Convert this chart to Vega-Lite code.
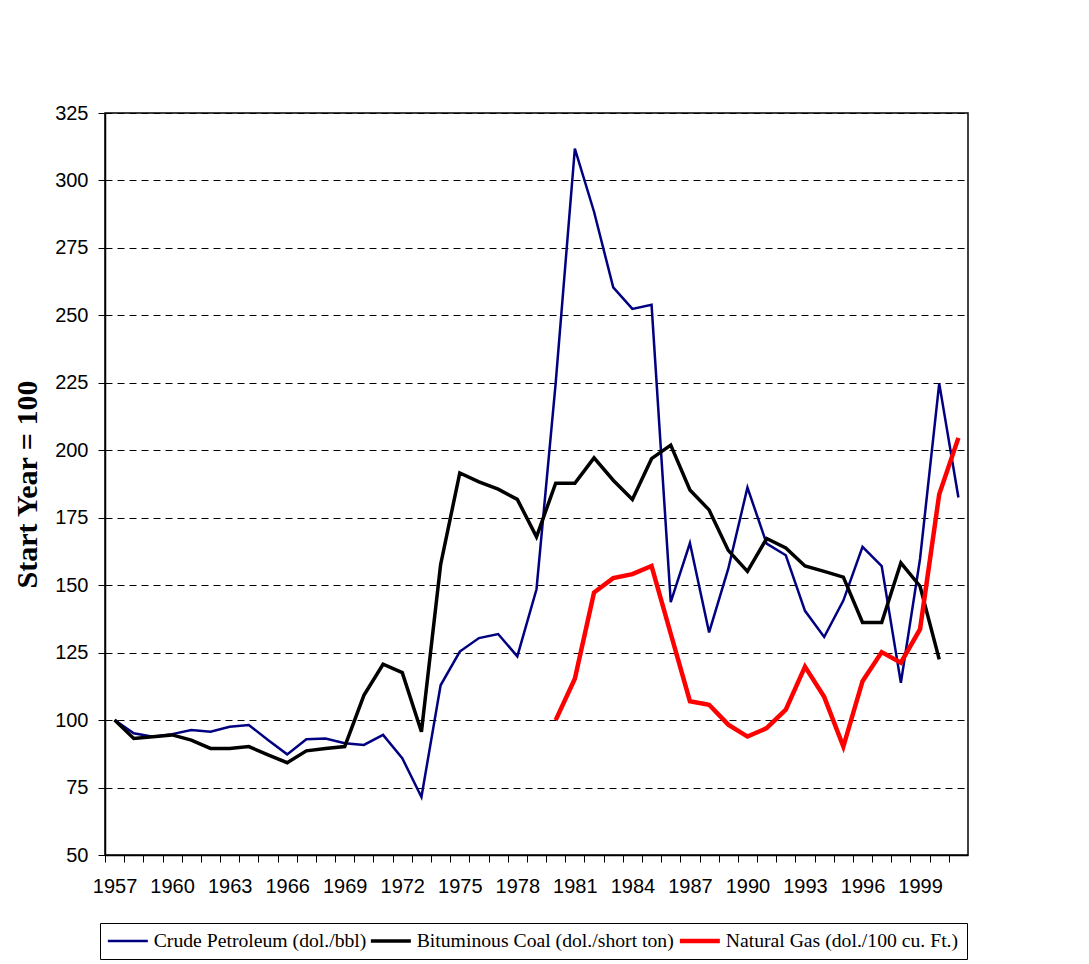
{
  "$schema": "https://vega.github.io/schema/vega-lite/v6.json",
  "autosize": "none",
  "width": 863,
  "height": 742,
  "padding": {"left": 105, "top": 113, "right": 121, "bottom": 109},
  "background": "white",
  "datasets": {
    "prices": [
      {"year": 1957, "series": "Crude Petroleum (dol./bbl)", "value": 100},
      {"year": 1958, "series": "Crude Petroleum (dol./bbl)", "value": 95.1},
      {"year": 1959, "series": "Crude Petroleum (dol./bbl)", "value": 93.8},
      {"year": 1960, "series": "Crude Petroleum (dol./bbl)", "value": 94.8},
      {"year": 1961, "series": "Crude Petroleum (dol./bbl)", "value": 96.3},
      {"year": 1962, "series": "Crude Petroleum (dol./bbl)", "value": 95.7},
      {"year": 1963, "series": "Crude Petroleum (dol./bbl)", "value": 97.5},
      {"year": 1964, "series": "Crude Petroleum (dol./bbl)", "value": 98.2},
      {"year": 1965, "series": "Crude Petroleum (dol./bbl)", "value": 92.6},
      {"year": 1966, "series": "Crude Petroleum (dol./bbl)", "value": 87.3},
      {"year": 1967, "series": "Crude Petroleum (dol./bbl)", "value": 92.9},
      {"year": 1968, "series": "Crude Petroleum (dol./bbl)", "value": 93.2},
      {"year": 1969, "series": "Crude Petroleum (dol./bbl)", "value": 91.4},
      {"year": 1970, "series": "Crude Petroleum (dol./bbl)", "value": 90.8},
      {"year": 1971, "series": "Crude Petroleum (dol./bbl)", "value": 94.5},
      {"year": 1972, "series": "Crude Petroleum (dol./bbl)", "value": 85.9},
      {"year": 1973, "series": "Crude Petroleum (dol./bbl)", "value": 71.5},
      {"year": 1974, "series": "Crude Petroleum (dol./bbl)", "value": 112.9},
      {"year": 1975, "series": "Crude Petroleum (dol./bbl)", "value": 125.4},
      {"year": 1976, "series": "Crude Petroleum (dol./bbl)", "value": 130.4},
      {"year": 1977, "series": "Crude Petroleum (dol./bbl)", "value": 131.9},
      {"year": 1978, "series": "Crude Petroleum (dol./bbl)", "value": 123.6},
      {"year": 1979, "series": "Crude Petroleum (dol./bbl)", "value": 148.5},
      {"year": 1980, "series": "Crude Petroleum (dol./bbl)", "value": 224.9},
      {"year": 1981, "series": "Crude Petroleum (dol./bbl)", "value": 311.8},
      {"year": 1982, "series": "Crude Petroleum (dol./bbl)", "value": 288.4},
      {"year": 1983, "series": "Crude Petroleum (dol./bbl)", "value": 260.4},
      {"year": 1984, "series": "Crude Petroleum (dol./bbl)", "value": 252.4},
      {"year": 1985, "series": "Crude Petroleum (dol./bbl)", "value": 253.9},
      {"year": 1986, "series": "Crude Petroleum (dol./bbl)", "value": 143.7},
      {"year": 1987, "series": "Crude Petroleum (dol./bbl)", "value": 165.6},
      {"year": 1988, "series": "Crude Petroleum (dol./bbl)", "value": 132.5},
      {"year": 1989, "series": "Crude Petroleum (dol./bbl)", "value": 156.1},
      {"year": 1990, "series": "Crude Petroleum (dol./bbl)", "value": 186.2},
      {"year": 1991, "series": "Crude Petroleum (dol./bbl)", "value": 165.4},
      {"year": 1992, "series": "Crude Petroleum (dol./bbl)", "value": 161.1},
      {"year": 1993, "series": "Crude Petroleum (dol./bbl)", "value": 140.5},
      {"year": 1994, "series": "Crude Petroleum (dol./bbl)", "value": 130.8},
      {"year": 1995, "series": "Crude Petroleum (dol./bbl)", "value": 144.3},
      {"year": 1996, "series": "Crude Petroleum (dol./bbl)", "value": 164.2},
      {"year": 1997, "series": "Crude Petroleum (dol./bbl)", "value": 157.1},
      {"year": 1998, "series": "Crude Petroleum (dol./bbl)", "value": 113.8},
      {"year": 1999, "series": "Crude Petroleum (dol./bbl)", "value": 159.8},
      {"year": 2000, "series": "Crude Petroleum (dol./bbl)", "value": 224.8},
      {"year": 2001, "series": "Crude Petroleum (dol./bbl)", "value": 182.5},
      {"year": 1957, "series": "Bituminous Coal (dol./short ton)", "value": 100},
      {"year": 1958, "series": "Bituminous Coal (dol./short ton)", "value": 93.2},
      {"year": 1959, "series": "Bituminous Coal (dol./short ton)", "value": 93.8},
      {"year": 1960, "series": "Bituminous Coal (dol./short ton)", "value": 94.5},
      {"year": 1961, "series": "Bituminous Coal (dol./short ton)", "value": 92.6},
      {"year": 1962, "series": "Bituminous Coal (dol./short ton)", "value": 89.5},
      {"year": 1963, "series": "Bituminous Coal (dol./short ton)", "value": 89.5},
      {"year": 1964, "series": "Bituminous Coal (dol./short ton)", "value": 90.2},
      {"year": 1965, "series": "Bituminous Coal (dol./short ton)", "value": 87.1},
      {"year": 1966, "series": "Bituminous Coal (dol./short ton)", "value": 84.2},
      {"year": 1967, "series": "Bituminous Coal (dol./short ton)", "value": 88.6},
      {"year": 1968, "series": "Bituminous Coal (dol./short ton)", "value": 89.5},
      {"year": 1969, "series": "Bituminous Coal (dol./short ton)", "value": 90.2},
      {"year": 1970, "series": "Bituminous Coal (dol./short ton)", "value": 109.2},
      {"year": 1971, "series": "Bituminous Coal (dol./short ton)", "value": 120.7},
      {"year": 1972, "series": "Bituminous Coal (dol./short ton)", "value": 117.6},
      {"year": 1973, "series": "Bituminous Coal (dol./short ton)", "value": 95.7},
      {"year": 1974, "series": "Bituminous Coal (dol./short ton)", "value": 157.6},
      {"year": 1975, "series": "Bituminous Coal (dol./short ton)", "value": 191.6},
      {"year": 1976, "series": "Bituminous Coal (dol./short ton)", "value": 188.3},
      {"year": 1977, "series": "Bituminous Coal (dol./short ton)", "value": 185.6},
      {"year": 1978, "series": "Bituminous Coal (dol./short ton)", "value": 181.8},
      {"year": 1979, "series": "Bituminous Coal (dol./short ton)", "value": 167.9},
      {"year": 1980, "series": "Bituminous Coal (dol./short ton)", "value": 187.8},
      {"year": 1981, "series": "Bituminous Coal (dol./short ton)", "value": 187.8},
      {"year": 1982, "series": "Bituminous Coal (dol./short ton)", "value": 197.2},
      {"year": 1983, "series": "Bituminous Coal (dol./short ton)", "value": 188.9},
      {"year": 1984, "series": "Bituminous Coal (dol./short ton)", "value": 181.8},
      {"year": 1985, "series": "Bituminous Coal (dol./short ton)", "value": 196.9},
      {"year": 1986, "series": "Bituminous Coal (dol./short ton)", "value": 201.9},
      {"year": 1987, "series": "Bituminous Coal (dol./short ton)", "value": 185.3},
      {"year": 1988, "series": "Bituminous Coal (dol./short ton)", "value": 177.9},
      {"year": 1989, "series": "Bituminous Coal (dol./short ton)", "value": 162.9},
      {"year": 1990, "series": "Bituminous Coal (dol./short ton)", "value": 155.1},
      {"year": 1991, "series": "Bituminous Coal (dol./short ton)", "value": 167.3},
      {"year": 1992, "series": "Bituminous Coal (dol./short ton)", "value": 163.8},
      {"year": 1993, "series": "Bituminous Coal (dol./short ton)", "value": 157.1},
      {"year": 1994, "series": "Bituminous Coal (dol./short ton)", "value": 155.1},
      {"year": 1995, "series": "Bituminous Coal (dol./short ton)", "value": 153.0},
      {"year": 1996, "series": "Bituminous Coal (dol./short ton)", "value": 136.2},
      {"year": 1997, "series": "Bituminous Coal (dol./short ton)", "value": 136.2},
      {"year": 1998, "series": "Bituminous Coal (dol./short ton)", "value": 158.3},
      {"year": 1999, "series": "Bituminous Coal (dol./short ton)", "value": 149.6},
      {"year": 2000, "series": "Bituminous Coal (dol./short ton)", "value": 122.5},
      {"year": 1980, "series": "Natural Gas (dol./100 cu. Ft.)", "value": 100},
      {"year": 1981, "series": "Natural Gas (dol./100 cu. Ft.)", "value": 115.3},
      {"year": 1982, "series": "Natural Gas (dol./100 cu. Ft.)", "value": 147.3},
      {"year": 1983, "series": "Natural Gas (dol./100 cu. Ft.)", "value": 152.6},
      {"year": 1984, "series": "Natural Gas (dol./100 cu. Ft.)", "value": 154.1},
      {"year": 1985, "series": "Natural Gas (dol./100 cu. Ft.)", "value": 157.1},
      {"year": 1986, "series": "Natural Gas (dol./100 cu. Ft.)", "value": 132.0},
      {"year": 1987, "series": "Natural Gas (dol./100 cu. Ft.)", "value": 107.0},
      {"year": 1988, "series": "Natural Gas (dol./100 cu. Ft.)", "value": 105.7},
      {"year": 1989, "series": "Natural Gas (dol./100 cu. Ft.)", "value": 98.3},
      {"year": 1990, "series": "Natural Gas (dol./100 cu. Ft.)", "value": 93.9},
      {"year": 1991, "series": "Natural Gas (dol./100 cu. Ft.)", "value": 97.0},
      {"year": 1992, "series": "Natural Gas (dol./100 cu. Ft.)", "value": 103.9},
      {"year": 1993, "series": "Natural Gas (dol./100 cu. Ft.)", "value": 119.8},
      {"year": 1994, "series": "Natural Gas (dol./100 cu. Ft.)", "value": 108.6},
      {"year": 1995, "series": "Natural Gas (dol./100 cu. Ft.)", "value": 90.2},
      {"year": 1996, "series": "Natural Gas (dol./100 cu. Ft.)", "value": 114.4},
      {"year": 1997, "series": "Natural Gas (dol./100 cu. Ft.)", "value": 125.2},
      {"year": 1998, "series": "Natural Gas (dol./100 cu. Ft.)", "value": 121.3},
      {"year": 1999, "series": "Natural Gas (dol./100 cu. Ft.)", "value": 133.7},
      {"year": 2000, "series": "Natural Gas (dol./100 cu. Ft.)", "value": 183.7},
      {"year": 2001, "series": "Natural Gas (dol./100 cu. Ft.)", "value": 204.6}
    ]
  },
  "data": {"name": "prices"},
  "mark": {"type": "line", "strokeJoin": "miter", "strokeCap": "butt"},
  "encoding": {
    "x": {
      "field": "year",
      "type": "quantitative",
      "scale": {"domain": [1956.5, 2001.5], "nice": false, "zero": false},
      "axis": {
        "title": null,
        "grid": false,
        "values": [1957, 1958, 1959, 1960, 1961, 1962, 1963, 1964, 1965, 1966, 1967, 1968, 1969, 1970, 1971, 1972, 1973, 1974, 1975, 1976, 1977, 1978, 1979, 1980, 1981, 1982, 1983, 1984, 1985, 1986, 1987, 1988, 1989, 1990, 1991, 1992, 1993, 1994, 1995, 1996, 1997, 1998, 1999, 2000, 2001],
        "labelExpr": "(datum.value - 1957) % 3 === 0 ? format(datum.value, 'd') : ''",
        "tickOffset": -9.59,
        "labelOffset": 9.59,
        "labelOverlap": false,
        "labelFlush": false,
        "labelBound": false,
        "labelPadding": 14
      }
    },
    "y": {
      "field": "value",
      "type": "quantitative",
      "scale": {"domain": [50, 325], "nice": false, "zero": false},
      "axis": {
        "title": "Start Year = 100",
        "values": [50, 75, 100, 125, 150, 175, 200, 225, 250, 275, 300, 325],
        "grid": true,
        "gridColor": "black",
        "gridDash": [7, 5],
        "gridWidth": 1,
        "labelPadding": 10,
        "titlePadding": 12,
        "titleFont": "Liberation Serif",
        "titleFontSize": 30,
        "titleFontWeight": "bold"
      }
    },
    "color": {
      "field": "series",
      "type": "nominal",
      "scale": {
        "domain": ["Crude Petroleum (dol./bbl)", "Bituminous Coal (dol./short ton)", "Natural Gas (dol./100 cu. Ft.)"],
        "range": ["#000080", "#000000", "#ff0000"]
      },
      "legend": {"title": null}
    },
    "strokeWidth": {
      "field": "series",
      "type": "nominal",
      "scale": {
        "domain": ["Crude Petroleum (dol./bbl)", "Bituminous Coal (dol./short ton)", "Natural Gas (dol./100 cu. Ft.)"],
        "range": [2.5, 4.5, 4.5]
      },
      "legend": {"title": null}
    },
    "order": {"field": "year"}
  },
  "config": {
    "view": {"stroke": "black", "strokeWidth": 1.5},
    "axis": {
      "domainColor": "black",
      "domainWidth": 1.5,
      "tickColor": "black",
      "tickWidth": 1,
      "tickSize": 7,
      "labelFont": "Liberation Sans",
      "labelFontSize": 20,
      "labelColor": "black",
      "titleColor": "black"
    },
    "legend": {
      "orient": "none",
      "legendX": -5,
      "legendY": 810,
      "direction": "horizontal",
      "strokeColor": "black",
      "padding": 8,
      "symbolType": "M-2,0L6,0",
      "symbolSize": 100,
      "labelFont": "Liberation Serif",
      "labelFontSize": 19.7,
      "labelColor": "black",
      "labelLimit": 400,
      "labelOffset": 26,
      "columnPadding": -4
    }
  }
}
